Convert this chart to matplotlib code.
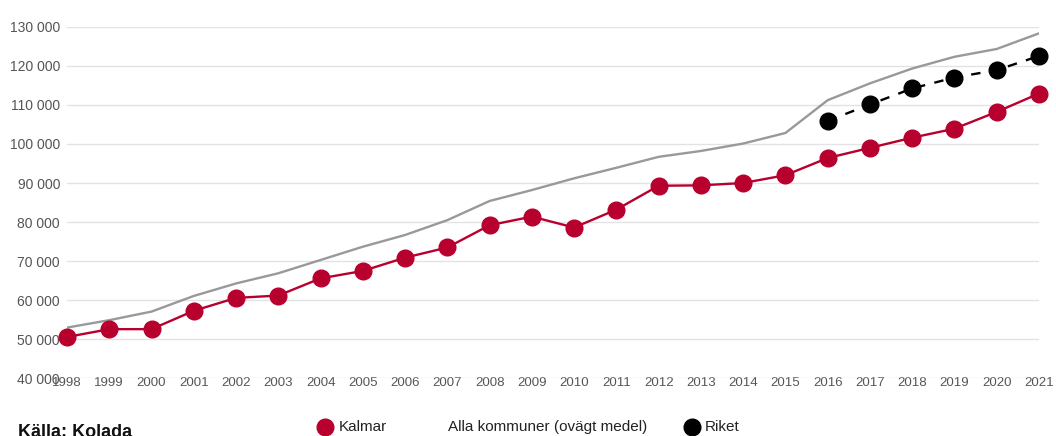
import matplotlib.pyplot as plt
from matplotlib.lines import Line2D
from matplotlib.ticker import FuncFormatter

plt.rcParams['font.family'] = ['Liberation Sans', 'DejaVu Sans']

years = list(range(1998, 2022))
kalmar = [50600, 52600, 52600, 57300, 60600, 61200, 65600, 67500, 70900, 73500,
          79200, 81400, 78600, 83200, 89300, 89400, 90000, 92000, 96400, 99000,
          101600, 103900, 108200, 112900]
alla = [53000, 54900, 57100, 61100, 64300, 66900, 70300, 73700, 76700, 80500,
        85400, 88200, 91200, 93900, 96700, 98200, 100100, 102800, 111200, 115500,
        119300, 122300, 124300, 128300]
riket_years = [2016, 2017, 2018, 2019, 2020, 2021]
riket = [105900, 110100, 114200, 117000, 118900, 122500]

red = '#b8002e'
grey = '#999999'
txt = '#555555'

fig = plt.figure(figsize=(10.56, 4.36), dpi=100)
ax = fig.add_axes([67/1056, 57.6/436, 972/1056, 351.7/436])

ax.plot(years, alla, color=grey, lw=1.7, zorder=2)
ax.plot(years, kalmar, color=red, lw=1.7, marker='o', ms=12, zorder=3, clip_on=False)
ax.plot(riket_years, riket, color='black', lw=1.7, ls=(0, (4, 4)), marker='o', ms=12,
        zorder=4, clip_on=False)

ax.set_xlim(1998, 2021)
ax.set_ylim(40000, 130000)
ax.set_xticks(years)
ax.set_yticks(range(40000, 130001, 10000))
ax.yaxis.set_major_formatter(FuncFormatter(lambda v, p: f'{int(v):,}'.replace(',', ' ')))
ax.grid(axis='y', color='#e3e3e3', lw=1)
ax.set_axisbelow(True)
for s in ax.spines.values():
    s.set_visible(False)
ax.tick_params(axis='both', length=0, labelcolor=txt)
ax.tick_params(axis='y', pad=5, labelsize=10)
ax.tick_params(axis='x', pad=-1, labelsize=9.5)

# legend row at the bottom
fig.text(18/1056, 1 - 432/436, 'Källa: Kolada', fontsize=13, fontweight='bold',
         color='#111111', va='center')
fig.add_artist(Line2D([325/1056], [1 - 427/436], marker='o', ms=12, color=red,
                      transform=fig.transFigure))
fig.text(339/1056, 1 - 427/436, 'Kalmar', fontsize=11, color='#222222', va='center')
fig.text(448/1056, 1 - 427/436, 'Alla kommuner (ovägt medel)', fontsize=11,
         color='#222222', va='center')
fig.add_artist(Line2D([692/1056], [1 - 427/436], marker='o', ms=12, color='black',
                      transform=fig.transFigure))
fig.text(705/1056, 1 - 427/436, 'Riket', fontsize=11, color='#222222', va='center')

fig.savefig('out.png', dpi=100)
